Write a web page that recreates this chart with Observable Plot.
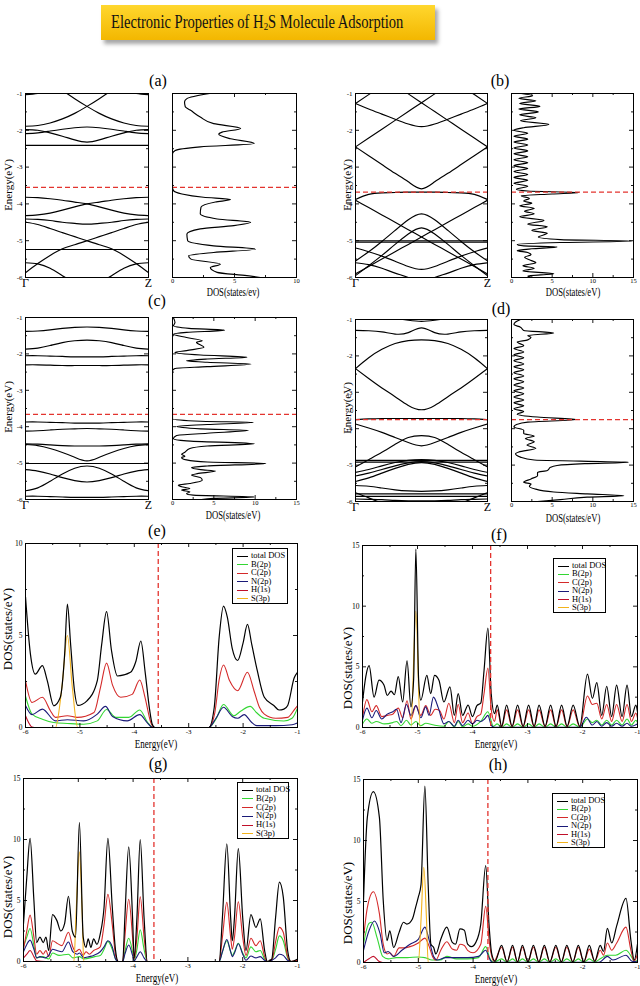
<!DOCTYPE html>
<html><head><meta charset="utf-8">
<script src="https://cdn.jsdelivr.net/npm/d3@7"></script>
<script src="https://cdn.jsdelivr.net/npm/@observablehq/plot@0.6"></script>
<style>
body{margin:0;background:#fff;}
#page{position:relative;width:640px;height:986px;overflow:hidden;font-family:"Liberation Serif","Times New Roman",serif;color:#000;}
.lbl{position:absolute;white-space:nowrap;line-height:1;}
</style></head><body><div id="page"></div>
<script>
// ---------------- DATA ----------------
const kGrid = [0,0.1,0.2,0.3,0.4,0.5,0.6,0.7,0.8,0.9,1];
const kLabels = ["Γ","Z"];
const energyMajor = [-6,-5,-4,-3,-2,-1];
const energyMinor = [-5.5,-4.5,-3.5,-2.5,-1.5];
const fermiLevels = {a:-3.55, b:-3.68, c:-3.66, d:-3.75, e:-3.56, f:-3.67, g:-3.62, h:-3.73};
const legendNames = ["total DOS","B(2p)","C(2p)","N(2p)","H(1s)","S(3p)"];

// band energies (eV) at kGrid points, Γ -> Z
const bandsA = [
 [-1.03,-1.0,-0.9,-0.75,-0.6,-0.45,-0.6,-0.75,-0.9,-1.0,-1.03],
 [-0.2,-0.45,-0.7,-0.92,-1.14,-1.35,-1.54,-1.69,-1.80,-1.87,-1.89],
 [-1.89,-1.87,-1.80,-1.69,-1.54,-1.35,-1.14,-0.92,-0.7,-0.45,-0.2],
 [-2.09,-2.07,-2.02,-1.97,-1.93,-1.91,-1.93,-1.97,-2.02,-2.07,-2.09],
 [-1.98,-2.0,-2.07,-2.16,-2.26,-2.32,-2.26,-2.16,-2.07,-2.0,-1.98],
 [-2.41,-2.41,-2.41,-2.41,-2.41,-2.41,-2.41,-2.41,-2.41,-2.41,-2.41],
 [-3.82,-3.83,-3.86,-3.9,-3.95,-4.0,-4.08,-4.17,-4.25,-4.30,-4.32],
 [-4.32,-4.30,-4.25,-4.17,-4.08,-4.0,-3.95,-3.9,-3.86,-3.83,-3.82],
 [-4.41,-4.42,-4.45,-4.5,-4.53,-4.55,-4.53,-4.5,-4.45,-4.42,-4.41],
 [-4.5,-4.56,-4.67,-4.78,-4.89,-5.0,-5.11,-5.22,-5.4,-5.62,-5.87],
 [-5.87,-5.62,-5.4,-5.22,-5.11,-5.0,-4.89,-4.78,-4.67,-4.56,-4.5],
 [-5.24,-5.24,-5.24,-5.24,-5.24,-5.24,-5.24,-5.24,-5.24,-5.24,-5.24],
 [-5.6,-5.63,-5.75,-5.95,-6.15,-6.3,-6.15,-5.95,-5.75,-5.63,-5.6]
];
const bandsB = [
 [-2.45,-2.69,-2.93,-3.17,-3.4,-3.59,-3.4,-3.17,-2.93,-2.69,-2.45],
 [-2.45,-2.21,-1.97,-1.73,-1.49,-1.25,-1.01,-0.77,-0.53,-0.3,-0.05],
 [-0.05,-0.3,-0.53,-0.77,-1.01,-1.25,-1.49,-1.73,-1.97,-2.21,-2.45],
 [-1.27,-1.42,-1.56,-1.7,-1.83,-1.9,-1.83,-1.7,-1.56,-1.42,-1.27],
 [-1.27,-1.03,-0.8,-0.6,-0.45,-0.4,-0.45,-0.6,-0.8,-1.03,-1.27],
 [-3.88,-3.74,-3.7,-3.69,-3.68,-3.68,-3.68,-3.69,-3.7,-3.74,-3.88],
 [-3.9,-4.1,-4.3,-4.5,-4.7,-4.9,-5.1,-5.3,-5.5,-5.7,-5.9],
 [-5.9,-5.7,-5.5,-5.3,-5.1,-4.9,-4.7,-4.5,-4.3,-4.1,-3.9],
 [-5.55,-5.3,-5.02,-4.72,-4.43,-4.27,-4.43,-4.72,-5.02,-5.3,-5.55],
 [-5.95,-5.68,-5.4,-5.1,-4.82,-4.65,-4.82,-5.1,-5.4,-5.68,-5.95],
 [-5.0,-5.0,-5.0,-5.0,-5.0,-5.0,-5.0,-5.0,-5.0,-5.0,-5.0],
 [-5.04,-5.04,-5.04,-5.04,-5.04,-5.04,-5.04,-5.04,-5.04,-5.04,-5.04],
 [-5.2,-5.3,-5.42,-5.56,-5.7,-5.78,-5.7,-5.56,-5.42,-5.3,-5.2],
 [-5.6,-5.65,-5.75,-5.88,-6.0,-6.1,-6.0,-5.88,-5.75,-5.65,-5.6]
];
const bandsC = [
 [-1.38,-1.37,-1.34,-1.3,-1.27,-1.26,-1.27,-1.3,-1.34,-1.37,-1.38],
 [-1.87,-1.84,-1.77,-1.69,-1.64,-1.62,-1.64,-1.69,-1.77,-1.84,-1.87],
 [-2.05,-2.05,-2.06,-2.07,-2.08,-2.08,-2.08,-2.07,-2.06,-2.05,-2.05],
 [-2.30,-2.30,-2.31,-2.32,-2.32,-2.32,-2.32,-2.32,-2.31,-2.30,-2.30],
 [-3.87,-3.87,-3.88,-3.89,-3.9,-3.9,-3.9,-3.89,-3.88,-3.87,-3.87],
 [-4.12,-4.11,-4.09,-4.07,-4.06,-4.05,-4.06,-4.07,-4.09,-4.11,-4.12],
 [-4.47,-4.48,-4.5,-4.52,-4.53,-4.53,-4.53,-4.52,-4.5,-4.48,-4.47],
 [-4.49,-4.52,-4.6,-4.71,-4.84,-4.94,-4.84,-4.71,-4.6,-4.52,-4.49],
 [-5.01,-5.01,-5.01,-5.01,-5.01,-5.01,-5.01,-5.01,-5.01,-5.01,-5.01],
 [-5.18,-5.22,-5.3,-5.4,-5.48,-5.52,-5.48,-5.4,-5.3,-5.22,-5.18],
 [-5.76,-5.68,-5.5,-5.3,-5.14,-5.08,-5.14,-5.3,-5.5,-5.68,-5.76],
 [-5.91,-5.91,-5.92,-5.93,-5.94,-5.94,-5.94,-5.93,-5.92,-5.91,-5.91]
];
const bandsD = [
 [-0.7,-0.8,-0.9,-0.97,-1.02,-1.05,-1.02,-0.97,-0.9,-0.8,-0.7],
 [-1.30,-1.31,-1.34,-1.40,-1.36,-1.23,-1.36,-1.40,-1.34,-1.31,-1.30],
 [-2.35,-2.05,-1.82,-1.66,-1.58,-1.56,-1.58,-1.66,-1.82,-2.05,-2.35],
 [-2.35,-2.62,-2.88,-3.12,-3.36,-3.48,-3.36,-3.12,-2.88,-2.62,-2.35],
 [-3.75,-3.73,-3.72,-3.72,-3.72,-3.72,-3.72,-3.72,-3.72,-3.73,-3.75],
 [-3.87,-3.98,-4.1,-4.24,-4.38,-4.47,-4.38,-4.24,-4.1,-3.98,-3.87],
 [-5.05,-4.85,-4.65,-4.43,-4.24,-4.19,-4.24,-4.43,-4.65,-4.85,-5.05],
 [-4.87,-4.87,-4.87,-4.87,-4.87,-4.87,-4.87,-4.87,-4.87,-4.87,-4.87],
 [-4.92,-4.92,-4.92,-4.92,-4.92,-4.92,-4.92,-4.92,-4.92,-4.92,-4.92],
 [-5.2,-5.12,-5.02,-4.93,-4.87,-4.85,-4.87,-4.93,-5.02,-5.12,-5.2],
 [-5.3,-5.22,-5.12,-5.02,-4.94,-4.9,-4.94,-5.02,-5.12,-5.22,-5.3],
 [-5.45,-5.35,-5.22,-5.09,-4.98,-4.93,-4.98,-5.09,-5.22,-5.35,-5.45],
 [-5.56,-5.58,-5.63,-5.68,-5.71,-5.72,-5.71,-5.68,-5.63,-5.58,-5.56],
 [-5.79,-5.79,-5.79,-5.79,-5.79,-5.79,-5.79,-5.79,-5.79,-5.79,-5.79],
 [-5.86,-5.86,-5.86,-5.86,-5.86,-5.86,-5.86,-5.86,-5.86,-5.86,-5.86],
 [-5.93,-5.94,-5.95,-5.97,-5.98,-5.98,-5.98,-5.97,-5.95,-5.94,-5.93],
 [-5.76,-5.9,-6.05,-6.2,-6.3,-6.3,-6.3,-6.2,-6.05,-5.9,-5.76]
];

// side DOS of panels a-d: [energy, DOS]
const dosA = [[-1.0,3.0],[-1.14,1.16],[-1.23,0.97],[-1.36,1.03],[-1.45,1.43],[-1.64,2.24],[-1.82,3.32],[-1.95,5.5],[-2.05,4.0],[-2.11,3.73],[-2.23,4.68],[-2.36,6.6],[-2.45,2.24],[-2.55,0.22],[-2.64,0],[-3.55,0],[-3.64,0.08],[-3.73,0.76],[-3.82,2.5],[-3.88,4.68],[-3.95,3.46],[-4.09,2.3],[-4.27,2.24],[-4.41,3.6],[-4.5,6.3],[-4.59,4.95],[-4.68,2.24],[-4.82,1.16],[-5.0,1.22],[-5.14,3.32],[-5.23,6.7],[-5.32,3.32],[-5.41,1.3],[-5.5,1.49],[-5.64,3.86],[-5.73,3.05],[-5.86,3.6],[-5.95,6.0],[-6.0,7.1]];
const dosB = [[-1.0,1.2],[-1.06,2.6],[-1.13,0.9],[-1.2,3.0],[-1.27,1.0],[-1.35,3.5],[-1.42,0.9],[-1.5,3.3],[-1.58,1.0],[-1.66,3.0],[-1.74,1.1],[-1.84,4.6],[-1.93,1.5],[-2.0,0.3],[-2.08,2.0],[-2.16,0.3],[-2.24,2.0],[-2.32,0.3],[-2.4,2.0],[-2.48,0.3],[-2.56,2.0],[-2.64,0.3],[-2.72,2.0],[-2.8,0.3],[-2.88,2.0],[-2.96,0.3],[-3.04,2.0],[-3.12,0.3],[-3.2,2.0],[-3.28,0.3],[-3.36,2.0],[-3.44,0.3],[-3.52,2.0],[-3.6,0.6],[-3.65,2.0],[-3.69,8.3],[-3.73,5.0],[-3.78,1.2],[-3.85,2.2],[-3.92,1.5],[-3.98,2.5],[-4.05,1.0],[-4.12,2.8],[-4.2,1.6],[-4.27,2.8],[-4.35,1.0],[-4.45,4.0],[-4.55,2.0],[-4.62,4.4],[-4.72,2.5],[-4.8,4.4],[-4.9,3.3],[-4.97,6.0],[-5.01,14.8],[-5.05,6.0],[-5.1,0.7],[-5.14,1.5],[-5.17,5.6],[-5.22,2.5],[-5.27,0.7],[-5.32,2.0],[-5.38,2.4],[-5.45,1.6],[-5.52,2.2],[-5.6,3.0],[-5.68,1.4],[-5.75,2.8],[-5.82,1.4],[-5.9,5.2],[-5.96,2.0],[-6.0,2.5]];
const dosC = [[-1.0,0.1],[-1.14,0.3],[-1.23,0.12],[-1.3,2.0],[-1.35,6.3],[-1.41,1.7],[-1.46,0.12],[-1.55,1.7],[-1.64,3.6],[-1.68,2.9],[-1.82,3.8],[-1.91,1.7],[-1.96,0.3],[-2.03,3.4],[-2.09,9.0],[-2.14,4.2],[-2.19,1.7],[-2.23,4.2],[-2.28,9.5],[-2.35,4.2],[-2.40,0.3],[-2.46,0],[-3.78,0],[-3.85,3.4],[-3.88,9.8],[-3.94,4.2],[-3.99,0.5],[-4.06,3.4],[-4.10,9.2],[-4.18,4.2],[-4.24,0.5],[-4.33,0.1],[-4.39,1.7],[-4.47,9.9],[-4.53,4.2],[-4.6,2.1],[-4.7,1.5],[-4.76,1.1],[-4.81,1.5],[-4.85,1.1],[-4.91,1.7],[-4.97,4.2],[-5.01,11.3],[-5.08,4.2],[-5.12,2.3],[-5.18,3.4],[-5.22,5.2],[-5.29,3.0],[-5.33,2.3],[-5.4,3.4],[-5.47,3.6],[-5.56,2.1],[-5.61,0.7],[-5.65,1.1],[-5.7,2.1],[-5.74,1.1],[-5.79,2.1],[-5.84,1.7],[-5.88,2.5],[-5.93,9.9],[-5.97,5.0],[-6.0,3.5]];
const dosD = [[-1.0,1.1],[-1.07,0.5],[-1.14,0.3],[-1.21,1.1],[-1.3,1.5],[-1.37,5.2],[-1.44,2.0],[-1.49,2.4],[-1.56,2.0],[-1.62,0.7],[-1.72,1.5],[-1.8,0.3],[-1.89,1.5],[-1.97,0.3],[-2.05,1.5],[-2.13,0.3],[-2.22,1.5],[-2.3,0.3],[-2.38,1.5],[-2.46,0.3],[-2.55,1.5],[-2.63,0.3],[-2.71,1.5],[-2.8,0.3],[-2.88,1.5],[-2.96,0.3],[-3.04,1.5],[-3.13,0.3],[-3.21,1.5],[-3.29,0.3],[-3.37,1.5],[-3.45,0.3],[-3.53,1.5],[-3.6,0.7],[-3.68,3.2],[-3.75,8.0],[-3.82,2.0],[-3.88,0.7],[-3.95,0.3],[-4.04,1.5],[-4.13,1.5],[-4.2,2.8],[-4.27,1.7],[-4.36,2.8],[-4.45,1.9],[-4.54,3.0],[-4.64,0.9],[-4.69,0.5],[-4.78,1.1],[-4.86,2.8],[-4.89,8.5],[-4.92,14.4],[-4.96,9.0],[-5.01,5.6],[-5.06,4.8],[-5.15,4.4],[-5.2,3.2],[-5.29,3.2],[-5.38,2.4],[-5.47,1.5],[-5.52,2.4],[-5.58,2.2],[-5.65,2.8],[-5.74,5.2],[-5.79,9.3],[-5.84,13.8],[-5.88,9.3],[-5.95,6.0],[-6.0,3.2]];

// projected DOS panels e-h: [energy, DOS]
const eTotal = [[-6,7.1],[-5.91,4.0],[-5.82,2.9],[-5.69,3.36],[-5.6,2.55],[-5.48,1.18],[-5.36,1.64],[-5.28,4.0],[-5.23,6.7],[-5.17,4.5],[-5.1,2.0],[-5.04,1.2],[-4.87,1.45],[-4.68,2.55],[-4.6,4.5],[-4.51,6.3],[-4.42,4.2],[-4.31,2.8],[-4.07,3.0],[-3.97,3.6],[-3.88,4.7],[-3.8,3.0],[-3.72,1.0],[-3.67,0.18],[-3.62,0],[-2.63,0],[-2.53,1.1],[-2.44,4.9],[-2.36,6.6],[-2.29,6.0],[-2.2,4.3],[-2.1,3.64],[-2.0,4.6],[-1.92,5.6],[-1.84,4.5],[-1.74,3.1],[-1.61,1.64],[-1.43,1.18],[-1.34,0.95],[-1.25,1.0],[-1.18,1.2],[-1.06,2.7],[-1,3.0]];
const eB = [[-6,1.7],[-5.88,0.73],[-5.69,0.45],[-5.48,0.27],[-5.23,0.22],[-4.93,0.18],[-4.68,0.36],[-4.51,0.98],[-4.34,0.55],[-4.1,0.55],[-3.9,0.95],[-3.76,0.3],[-3.66,0],[-2.63,0],[-2.5,0.45],[-2.36,1.25],[-2.17,0.64],[-2.04,0.9],[-1.87,1.15],[-1.75,0.8],[-1.61,0.5],[-1.25,0.35],[-1.1,0.5],[-1,1.05]];
const eC = [[-6,2.55],[-5.88,1.36],[-5.69,1.64],[-5.54,0.9],[-5.45,0.55],[-5.23,0.64],[-5.05,0.55],[-4.74,0.82],[-4.62,2.2],[-4.51,3.5],[-4.4,2.3],[-4.25,1.64],[-4.04,1.8],[-3.9,2.58],[-3.8,1.6],[-3.7,0.3],[-3.64,0],[-2.63,0],[-2.52,0.8],[-2.44,2.6],[-2.36,3.4],[-2.25,2.55],[-2.1,2.0],[-1.92,3.0],[-1.8,2.0],[-1.7,1.1],[-1.61,0.73],[-1.4,0.5],[-1.18,0.55],[-1.05,1.0],[-1,1.18]];
const eN = [[-6,1.2],[-5.88,0.7],[-5.69,1.0],[-5.45,0.36],[-5.23,0.42],[-4.93,0.36],[-4.68,0.73],[-4.53,1.15],[-4.4,0.6],[-4.13,0.36],[-3.9,0.7],[-3.76,0.25],[-3.66,0],[-2.63,0],[-2.5,0.5],[-2.36,1.1],[-2.2,0.6],[-2.1,0.5],[-1.98,0.7],[-1.85,0.3],[-1.75,0.1],[-1.4,0.1],[-1.1,0.15],[-1,0.25]];
const eH = [[-6,0.64],[-5.88,0.03],[-5.8,0],[-1,0]];
const eS = [[-6,0],[-5.45,0],[-5.33,2.2],[-5.23,5.0],[-5.14,2.2],[-5.04,0],[-1,0]];

const fTotal = [[-6,2.1],[-5.94,4.2],[-5.88,5.1],[-5.79,2.5],[-5.7,3.9],[-5.61,3.5],[-5.55,2.65],[-5.48,3.0],[-5.42,2.7],[-5.35,4.2],[-5.27,2.1],[-5.19,5.5],[-5.12,1.7],[-5.07,4.0],[-5.03,14.7],[-4.98,4.0],[-4.94,2.25],[-4.83,4.3],[-4.76,2.8],[-4.69,4.3],[-4.61,3.9],[-4.52,2.1],[-4.41,3.35],[-4.33,1.0],[-4.26,2.8],[-4.18,1.0],[-4.08,1.85],[-4.0,0.9],[-3.92,1.8],[-3.85,2.0],[-3.79,4.7],[-3.72,8.2],[-3.66,2.8],[-3.6,1.15],[-3.55,1.85],[-3.47,0.1],[-3.38,1.85],[-3.28,0.1],[-3.18,1.85],[-3.08,0.1],[-2.98,1.85],[-2.88,0.1],[-2.79,1.85],[-2.68,0.1],[-2.58,1.85],[-2.48,0.1],[-2.38,1.85],[-2.28,0.1],[-2.17,1.85],[-2.05,0.1],[-1.91,4.4],[-1.82,2.4],[-1.74,3.7],[-1.65,1.0],[-1.56,3.4],[-1.47,0.9],[-1.38,3.5],[-1.28,0.9],[-1.19,3.5],[-1.11,0.9],[-1.03,1.85],[-1.0,1.3]];
const fB = [[-6,0.3],[-5.92,0.7],[-5.83,0.35],[-5.75,0.5],[-5.6,0.3],[-5.45,0.4],[-5.38,0.5],[-5.3,0.15],[-5.2,0.6],[-5.12,0.2],[-5.03,0.5],[-4.94,0.15],[-4.85,0.35],[-4.7,0.2],[-4.52,0.1],[-4.43,0.5],[-4.33,0.05],[-4.26,0.5],[-4.18,0.05],[-4.08,0.3],[-4.0,0.1],[-3.85,0.5],[-3.72,1.3],[-3.62,0.1],[-3.55,0.3],[-3.47,0.02],[-3.38,0.3],[-3.28,0.02],[-3.18,0.3],[-3.08,0.02],[-2.98,0.3],[-2.88,0.02],[-2.79,0.3],[-2.68,0.02],[-2.58,0.3],[-2.48,0.02],[-2.38,0.3],[-2.28,0.02],[-2.17,0.3],[-2.05,0.02],[-1.91,0.7],[-1.82,0.4],[-1.74,0.6],[-1.65,0.2],[-1.56,0.6],[-1.47,0.2],[-1.38,0.6],[-1.28,0.2],[-1.19,0.7],[-1.11,0.2],[-1.03,0.6],[-1.0,0.4]];
const fC = [[-6,0.8],[-5.92,2.3],[-5.83,1.3],[-5.75,1.8],[-5.65,0.9],[-5.55,1.0],[-5.45,1.1],[-5.35,1.6],[-5.27,0.8],[-5.19,2.2],[-5.12,0.7],[-5.03,1.8],[-4.94,1.0],[-4.85,1.8],[-4.76,1.0],[-4.68,1.5],[-4.6,1.4],[-4.52,0.7],[-4.43,2.0],[-4.33,0.4],[-4.26,1.9],[-4.18,0.4],[-4.08,1.2],[-4.0,0.3],[-3.92,0.9],[-3.85,1.1],[-3.79,2.8],[-3.72,4.9],[-3.66,1.5],[-3.6,0.5],[-3.55,1.45],[-3.47,0.05],[-3.38,1.45],[-3.28,0.05],[-3.18,1.45],[-3.08,0.05],[-2.98,1.45],[-2.88,0.05],[-2.79,1.45],[-2.68,0.05],[-2.58,1.45],[-2.48,0.05],[-2.38,1.45],[-2.28,0.05],[-2.17,1.45],[-2.05,0.05],[-1.91,2.6],[-1.82,1.9],[-1.74,2.0],[-1.65,0.7],[-1.56,1.9],[-1.47,0.5],[-1.38,1.9],[-1.28,0.5],[-1.19,1.9],[-1.11,0.5],[-1.03,1.2],[-1.0,0.8]];
const fN = [[-6,0.6],[-5.92,1.6],[-5.83,0.8],[-5.75,1.4],[-5.65,0.7],[-5.55,1.1],[-5.45,1.3],[-5.38,1.5],[-5.3,0.4],[-5.2,1.9],[-5.12,1.0],[-5.03,1.8],[-4.94,0.8],[-4.85,1.7],[-4.79,1.0],[-4.71,2.5],[-4.62,1.6],[-4.52,0.3],[-4.43,0.5],[-4.33,0.1],[-4.26,0.6],[-4.18,0.15],[-4.08,0.6],[-4.0,0.3],[-3.92,0.6],[-3.85,0.5],[-3.78,0.7],[-3.72,1.0],[-3.66,0.2],[-3.6,0.02],[-2.05,0.02],[-1.93,0.85],[-1.82,0.2],[-1.74,0.5],[-1.65,0.1],[-1.56,0.4],[-1.47,0.1],[-1.38,0.35],[-1.28,0.1],[-1.19,0.35],[-1.11,0.1],[-1.0,0.3]];
const fH = [[-6,0],[-1,0]];
const fS = [[-6,0],[-5.12,0],[-5.03,9.6],[-4.95,0],[-1,0]];

const gTotal = [[-6,3.1],[-5.94,6.9],[-5.88,10.1],[-5.81,5.0],[-5.76,1.55],[-5.7,2.0],[-5.64,1.55],[-5.59,2.0],[-5.54,0.9],[-5.47,3.85],[-5.39,3.35],[-5.32,2.5],[-5.25,3.1],[-5.18,5.35],[-5.11,2.5],[-5.05,2.0],[-4.98,11.4],[-4.91,2.0],[-4.86,1.15],[-4.82,1.85],[-4.77,1.15],[-4.72,1.85],[-4.66,1.4],[-4.6,2.25],[-4.53,4.45],[-4.46,10.1],[-4.38,4.45],[-4.32,0.9],[-4.27,0],[-4.19,0],[-4.15,3.6],[-4.08,9.4],[-4.01,3.6],[-3.98,0.3],[-3.93,3.6],[-3.87,10.0],[-3.8,3.6],[-3.74,0],[-2.43,0],[-2.37,3.6],[-2.29,9.65],[-2.22,3.6],[-2.19,1.7],[-2.15,3.6],[-2.08,9.25],[-2.0,3.6],[-1.94,0.9],[-1.85,3.85],[-1.76,2.8],[-1.68,3.5],[-1.6,0.9],[-1.55,0],[-1.47,0.2],[-1.4,3.6],[-1.33,6.5],[-1.26,5.3],[-1.18,0.9],[-1.12,0],[-1,0.2]];
const gB = [[-6,1.2],[-5.94,2.0],[-5.88,2.7],[-5.81,1.3],[-5.76,0.3],[-5.65,0.4],[-5.54,0.2],[-5.47,0.7],[-5.35,0.5],[-5.18,0.6],[-5.1,0.3],[-4.98,0.4],[-4.9,0.2],[-4.7,0.4],[-4.6,0.5],[-4.53,1.0],[-4.46,1.65],[-4.38,1.0],[-4.32,0.2],[-4.27,0],[-4.19,0],[-4.15,0.8],[-4.08,1.9],[-4.01,0.8],[-3.98,0.1],[-3.93,1.0],[-3.87,2.6],[-3.8,1.0],[-3.74,0],[-2.43,0],[-2.37,0.8],[-2.29,1.7],[-2.22,0.8],[-2.19,0.5],[-2.15,0.8],[-2.08,1.5],[-2.0,0.7],[-1.94,0.3],[-1.85,1.2],[-1.76,0.8],[-1.68,0.9],[-1.6,0.2],[-1.55,0],[-1.47,0.1],[-1.4,1.0],[-1.33,2.1],[-1.26,1.7],[-1.18,0.3],[-1.12,0],[-1,0.05]];
const gC = [[-6,1.0],[-5.94,2.5],[-5.88,3.8],[-5.81,2.0],[-5.76,0.6],[-5.7,0.9],[-5.64,0.6],[-5.59,0.9],[-5.54,0.4],[-5.47,1.7],[-5.39,1.5],[-5.3,1.3],[-5.18,2.4],[-5.1,1.2],[-5.05,0.8],[-4.98,1.0],[-4.91,0.5],[-4.86,0.8],[-4.8,0.6],[-4.72,0.9],[-4.6,1.2],[-4.53,3.0],[-4.46,5.5],[-4.38,3.0],[-4.32,0.5],[-4.27,0],[-4.19,0],[-4.15,2.0],[-4.08,5.1],[-4.01,2.0],[-3.98,0.2],[-3.93,2.0],[-3.87,5.3],[-3.8,2.0],[-3.74,0],[-2.43,0],[-2.37,2.0],[-2.29,4.85],[-2.22,2.0],[-2.19,1.0],[-2.15,2.0],[-2.08,4.9],[-2.0,2.0],[-1.94,0.5],[-1.85,1.9],[-1.76,1.3],[-1.68,1.7],[-1.6,0.4],[-1.55,0],[-1.47,0.1],[-1.4,1.6],[-1.33,2.8],[-1.26,2.4],[-1.18,0.4],[-1.12,0],[-1,0.1]];
const gN = [[-6,0.8],[-5.94,1.4],[-5.88,1.75],[-5.81,1.0],[-5.76,0.3],[-5.7,0.4],[-5.6,0.3],[-5.54,0.5],[-5.47,1.0],[-5.39,0.9],[-5.3,0.8],[-5.18,1.6],[-5.1,0.8],[-5.02,0.6],[-4.98,0.7],[-4.9,0.3],[-4.8,0.4],[-4.72,0.5],[-4.6,0.8],[-4.53,1.2],[-4.46,1.7],[-4.38,1.2],[-4.32,0.2],[-4.27,0],[-4.19,0],[-4.15,0.6],[-4.08,1.35],[-4.01,0.5],[-3.98,0.05],[-3.93,0.4],[-3.87,0.8],[-3.8,0.3],[-3.74,0],[-2.43,0],[-2.37,0.8],[-2.29,1.8],[-2.22,0.8],[-2.19,0.4],[-2.15,0.7],[-2.08,1.45],[-2.0,0.6],[-1.94,0.1],[-1.85,0.45],[-1.76,0.3],[-1.68,0.4],[-1.6,0.1],[-1.55,0],[-1.4,0.3],[-1.33,0.6],[-1.26,0.5],[-1.18,0.1],[-1.12,0],[-1,0]];
const gH = [[-6,0.3],[-5.94,0.6],[-5.88,0.9],[-5.81,0.4],[-5.76,0.05],[-5.6,0],[-1,0]];
const gS = [[-6,0],[-5.08,0],[-5.04,4.0],[-4.98,9.0],[-4.93,4.0],[-4.9,0],[-1,0]];

const hTotal = [[-6,5.1],[-5.93,11.9],[-5.82,14.0],[-5.71,11.9],[-5.64,5.1],[-5.57,1.8],[-5.52,2.6],[-5.45,1.23],[-5.35,2.47],[-5.27,3.3],[-5.21,3.15],[-5.11,3.55],[-5.05,4.5],[-5.0,5.35],[-4.95,6.4],[-4.88,14.45],[-4.82,6.4],[-4.77,1.5],[-4.72,1.23],[-4.68,0.7],[-4.59,1.9],[-4.48,2.9],[-4.38,1.65],[-4.32,1.5],[-4.24,2.75],[-4.16,2.65],[-4.1,1.5],[-4.03,1.3],[-3.95,1.65],[-3.86,3.15],[-3.77,7.95],[-3.71,3.15],[-3.66,0.7],[-3.6,0.1],[-3.48,1.4],[-3.38,0.05],[-3.28,1.4],[-3.19,0.05],[-3.1,1.4],[-3.0,0.05],[-2.9,1.4],[-2.8,0.05],[-2.7,1.4],[-2.6,0.05],[-2.49,1.4],[-2.39,0.05],[-2.29,1.4],[-2.18,0.05],[-2.08,1.4],[-1.98,0.05],[-1.88,1.4],[-1.78,0.1],[-1.68,1.4],[-1.62,0.9],[-1.55,2.8],[-1.47,1.6],[-1.38,3.0],[-1.21,5.25],[-1.12,1.8],[-1.06,0.2],[-1.0,1.5]];
const hB = [[-6,1.5],[-5.9,3.2],[-5.85,3.3],[-5.75,2.0],[-5.65,0.5],[-5.55,0.3],[-5.4,0.4],[-5.2,0.4],[-5.0,0.45],[-4.88,0.4],[-4.75,0.2],[-4.6,0.2],[-4.48,0.5],[-4.3,0.3],[-4.1,0.3],[-3.9,0.4],[-3.77,1.3],[-3.7,0.4],[-3.62,0.02],[-3.48,0.3],[-3.38,0.02],[-3.28,0.3],[-3.19,0.02],[-3.1,0.3],[-3.0,0.02],[-2.9,0.3],[-2.8,0.02],[-2.7,0.3],[-2.6,0.02],[-2.49,0.3],[-2.39,0.02],[-2.29,0.3],[-2.18,0.02],[-2.08,0.3],[-1.98,0.02],[-1.88,0.3],[-1.78,0.05],[-1.68,0.3],[-1.55,0.6],[-1.4,0.6],[-1.21,1.0],[-1.1,0.4],[-1.05,0.05],[-1,0.2]];
const hC = [[-6,2.0],[-5.93,4.5],[-5.82,5.8],[-5.71,4.0],[-5.64,1.5],[-5.57,0.7],[-5.52,0.8],[-5.45,0.5],[-5.35,1.2],[-5.27,1.2],[-5.15,1.3],[-5.0,1.6],[-4.88,2.0],[-4.8,1.3],[-4.74,0.5],[-4.68,0.2],[-4.59,1.0],[-4.48,1.7],[-4.38,1.1],[-4.3,1.0],[-4.24,1.5],[-4.16,1.4],[-4.1,1.0],[-4.0,0.8],[-3.86,1.5],[-3.77,4.6],[-3.7,1.5],[-3.62,0.1],[-3.48,1.25],[-3.38,0.03],[-3.28,1.25],[-3.19,0.03],[-3.1,1.25],[-3.0,0.03],[-2.9,1.25],[-2.8,0.03],[-2.7,1.25],[-2.6,0.03],[-2.49,1.25],[-2.39,0.03],[-2.29,1.25],[-2.18,0.03],[-2.08,1.25],[-1.98,0.03],[-1.88,1.1],[-1.78,0.1],[-1.68,1.0],[-1.62,0.6],[-1.55,1.6],[-1.47,1.0],[-1.38,1.6],[-1.21,2.9],[-1.12,1.0],[-1.06,0.1],[-1.0,0.7]];
const hN = [[-6,1.0],[-5.9,2.6],[-5.8,3.4],[-5.7,2.4],[-5.62,0.8],[-5.55,0.9],[-5.45,0.5],[-5.3,1.0],[-5.15,1.5],[-5.0,1.9],[-4.88,2.9],[-4.8,1.8],[-4.72,0.5],[-4.65,0.2],[-4.5,0.4],[-4.3,0.4],[-4.1,0.4],[-3.9,0.5],[-3.77,1.0],[-3.7,0.3],[-3.65,0.02],[-1.7,0.02],[-1.55,0.5],[-1.45,0.2],[-1.21,0.6],[-1.1,0.1],[-1,0.05]];
const hH = [[-6,0],[-5.9,0.3],[-5.82,0.5],[-5.72,0.1],[-5.65,0],[-1,0]];
const hS = [[-6,0],[-5.0,0],[-4.95,3.5],[-4.9,7.8],[-4.85,3.5],[-4.82,0],[-1,0]];

// ---------------- STYLE / LAYOUT ----------------
const RED = "#e3342f";
const seriesColors = ["#000000","#33d633","#d42a2a","#1a1a78","#c0102a","#f2b21c"];
const FONT = "'Liberation Serif','Times New Roman',serif";
const SVGSTYLE = `background:transparent;overflow:visible;max-width:none;font-family:${FONT};color:#000;position:absolute;`;
const page = document.getElementById("page");

function place(svg, left, top){ svg.style.left = left+"px"; svg.style.top = top+"px"; page.appendChild(svg); }
function label(html, cx, cy, size, rotate=false, sx=1){
  const d = document.createElement("div");
  d.className = "lbl"; d.innerHTML = html;
  d.style.fontSize = size+"px"; d.style.left = cx+"px"; d.style.top = cy+"px";
  d.style.transform = `translate(-50%,-50%)${rotate?" rotate(-90deg)":""}${sx!==1?` scaleX(${sx})`:""}`;
  page.appendChild(d);
}
function tickMarks(xd, yd, fw, fh, xt, yt){
  const marks = [];
  const ly = len => (yd[1]-yd[0])*len/fh, lx = len => (xd[1]-xd[0])*len/fw;
  for (const [vals,len] of [[xt.major,4],[xt.minor,2]]) if (vals.length){
    marks.push(Plot.ruleX(vals,{x:d=>d, y1:()=>yd[0], y2:()=>yd[0]+ly(len), stroke:"#000", strokeWidth:0.9}));
    marks.push(Plot.ruleX(vals,{x:d=>d, y1:()=>yd[1], y2:()=>yd[1]-ly(len), stroke:"#000", strokeWidth:0.9}));
  }
  for (const [vals,len] of [[yt.major,4],[yt.minor,2]]) if (vals.length){
    marks.push(Plot.ruleY(vals,{y:d=>d, x1:()=>xd[0], x2:()=>xd[0]+lx(len), stroke:"#000", strokeWidth:0.9}));
    marks.push(Plot.ruleY(vals,{y:d=>d, x1:()=>xd[1], x2:()=>xd[1]-lx(len), stroke:"#000", strokeWidth:0.9}));
  }
  return marks;
}
const M = {t:8, r:8, b:18, l:24};
function base(fw, fh, xd, yd, marks){
  return Plot.plot({
    width: fw+M.l+M.r, height: fh+M.t+M.b,
    marginTop:M.t, marginRight:M.r, marginBottom:M.b, marginLeft:M.l,
    x:{domain:xd}, y:{domain:yd},
    style: SVGSTYLE,
    marks
  });
}
function bandPanel(bands, fermi, fx, fy, fw, fh){
  const rows = [];
  bands.forEach((b,i)=>b.forEach((e,j)=>rows.push({band:i, k:kGrid[j], e})));
  const xd=[0,1], yd=[-6,-1];
  const svg = base(fw, fh, xd, yd, [
    Plot.line(rows,{x:"k", y:"e", z:"band", stroke:"#000", strokeWidth:1.15, curve:"natural", clip:true}),
    Plot.ruleY([fermi],{stroke:RED, strokeWidth:1.3, strokeDasharray:"5,3"}),
    ...tickMarks(xd, yd, fw, fh, {major:[],minor:[]}, {major:energyMajor, minor:energyMinor}),
    Plot.axisY({ticks:energyMajor, tickSize:0, tickPadding:3, tickFormat:d=>String(d), fontSize:7, label:null}),
    Plot.axisX({ticks:[0,1], tickSize:0, tickPadding:1, tickFormat:d=>d===0?kLabels[0]:kLabels[1], fontSize:12, label:null}),
    Plot.frame({stroke:"#000", strokeWidth:1})
  ]);
  place(svg, fx-M.l, fy-M.t);
}
function sideDosPanel(data, fermi, xmax, fx, fy, fw, fh){
  const xd=[0,xmax], yd=[-6,-1];
  const major = xmax===10 ? [0,5,10] : [0,5,10,15];
  const minor = xmax===10 ? [2.5,7.5] : [2.5,7.5,12.5];
  const svg = base(fw, fh, xd, yd, [
    Plot.line(data,{x:d=>d[1], y:d=>d[0], stroke:"#000", strokeWidth:1.15, curve:"monotone-y", clip:true}),
    Plot.ruleY([fermi],{stroke:RED, strokeWidth:1.3, strokeDasharray:"5,3"}),
    ...tickMarks(xd, yd, fw, fh, {major, minor}, {major:energyMajor, minor:energyMinor}),
    Plot.axisX({ticks:major, tickSize:0, tickPadding:1, tickFormat:d=>String(d), fontSize:6.5, label:null}),
    Plot.axisY({ticks:[], tickSize:0, label:null}),
    Plot.frame({stroke:"#000", strokeWidth:1})
  ]);
  place(svg, fx-M.l, fy-M.t);
}
function pdosPanel(series, fermi, ymax, fx, fy, fw, fh){
  const xd=[-6,-1], yd=[0,ymax];
  const ymajor = ymax===10 ? [0,5,10] : [0,5,10,15];
  const yminor = ymax===10 ? [2.5,7.5] : [2.5,7.5,12.5];
  const lines = series.map((s,i)=>Plot.line(s,{x:d=>d[0], y:d=>d[1], stroke:seriesColors[i], strokeWidth:i===0?1.2:1.1, curve:"monotone-x", clip:true}));
  const svg = base(fw, fh, xd, yd, [
    ...lines.slice(1), lines[0],
    Plot.ruleX([fermi],{stroke:RED, strokeWidth:1.3, strokeDasharray:"5,3"}),
    ...tickMarks(xd, yd, fw, fh, {major:energyMajor, minor:energyMinor}, {major:ymajor, minor:yminor}),
    Plot.axisX({ticks:energyMajor, tickSize:0, tickPadding:2, tickFormat:d=>String(d), fontSize:7, label:null}),
    Plot.axisY({ticks:ymajor, tickSize:0, tickPadding:3, tickFormat:d=>String(d), fontSize:7.5, label:null}),
    Plot.frame({stroke:"#000", strokeWidth:1})
  ]);
  place(svg, fx-M.l, fy-M.t);
}
function legendBox(left, top, w, h){
  const d = document.createElement("div");
  d.style.cssText = `position:absolute;left:${left}px;top:${top}px;width:${w}px;height:${h}px;border:1px solid #000;background:#fff;box-sizing:border-box;`;
  const step = (h-8)/5.6;
  legendNames.forEach((name,i)=>{
    const cy = 5 + i*step + 1.5;
    const sw = document.createElement("div");
    sw.style.cssText = `position:absolute;left:4px;top:${cy}px;width:11px;height:0;border-top:1.6px solid ${seriesColors[i]};`;
    d.appendChild(sw);
    const t = document.createElement("div");
    t.className = "lbl"; t.textContent = name;
    t.style.cssText += `position:absolute;left:18px;top:${cy-4.5}px;font-size:8.5px;`;
    d.appendChild(t);
  });
  page.appendChild(d);
}

// ---------------- TITLE ----------------
const title = document.createElement("div");
title.style.cssText = "position:absolute;left:101px;top:5px;width:334px;height:35px;background:linear-gradient(#ffd72e,#f3b700);box-shadow:3px 4px 4px rgba(0,0,0,0.35);";
const tt = document.createElement("div");
tt.className = "lbl";
tt.innerHTML = "Electronic Properties of H<sub style='font-size:11px;vertical-align:-2px'>2</sub>S Molecule Adsorption";
tt.style.cssText += "position:absolute;left:10px;top:8px;font-size:18px;transform:scaleX(0.81);transform-origin:0 50%;color:#111;";
title.appendChild(tt);
page.appendChild(title);

// ---------------- PANELS a-d ----------------
bandPanel(bandsA, fermiLevels.a, 25, 93, 123, 184);
sideDosPanel(dosA, fermiLevels.a, 10, 172, 93, 124, 184);
bandPanel(bandsB, fermiLevels.b, 355, 93, 132, 184);
sideDosPanel(dosB, fermiLevels.b, 15, 511, 93, 122, 184);
bandPanel(bandsC, fermiLevels.c, 25, 317, 123, 182);
sideDosPanel(dosC, fermiLevels.c, 15, 172, 317, 124, 182);
bandPanel(bandsD, fermiLevels.d, 355, 319, 132, 182);
sideDosPanel(dosD, fermiLevels.d, 15, 511, 319, 122, 182);

// ---------------- PANELS e-h ----------------
pdosPanel([eTotal,eB,eC,eN,eH,eS], fermiLevels.e, 10, 25, 543, 272, 184);
pdosPanel([fTotal,fB,fC,fN,fH,fS], fermiLevels.f, 15, 362, 545, 275, 182);
pdosPanel([gTotal,gB,gC,gN,gH,gS], fermiLevels.g, 15, 23, 778, 274, 183);
pdosPanel([hTotal,hB,hC,hN,hH,hS], fermiLevels.h, 15, 363, 779, 274, 183);
legendBox(232, 548, 56, 56);
legendBox(553, 558, 53, 55);
legendBox(237, 782, 52, 57);
legendBox(552, 793, 53, 55);

// ---------------- LABELS ----------------
label("(a)",158,81,16); label("(b)",500,81,16); label("(c)",157,301,16); label("(d)",501,309,16);
label("(e)",157,531,16); label("(f)",499,535,16); label("(g)",158,764,16); label("(h)",498,765,16);
label("Energy(eV)",8,185,11,true); label("Energy(eV)",347,185,11,true);
label("Energy(eV)",8,407,11,true); label("Energy(eV)",347,408,11,true);
label("DOS(states/ev)",233,293,11.5,false,0.75); label("DOS(states/eV)",573,293,11.5,false,0.75);
label("DOS(states/eV)",233,516,11.5,false,0.75); label("DOS(states/eV)",573,519,11.5,false,0.75);
label("DOS(states/eV)",7,629,13,true); label("DOS(states/eV)",347,668,13,true);
label("DOS(states/eV)",7,897,13,true); label("DOS(states/eV)",347,903,13,true);
label("Energy(eV)",156,744,12,false,0.75); label("Energy(eV)",496,744,12,false,0.75);
label("Energy(eV)",157,978,12,false,0.75); label("Energy(eV)",496,979,12,false,0.75);
</script></body></html>
